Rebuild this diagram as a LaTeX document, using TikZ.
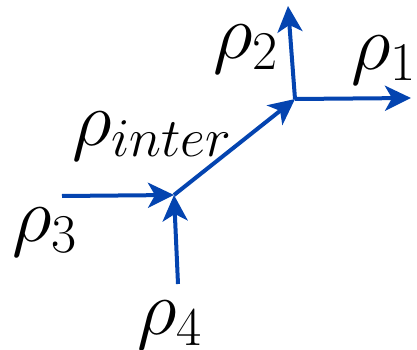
\documentclass[tikz,border=0pt]{standalone}
\usepackage{fix-cm}
\usetikzlibrary{arrows.meta}
\definecolor{edgeblue}{RGB}{4,68,176}
\tikzset{
  flow/.style={draw=edgeblue, line width=4pt, -{Stealth[length=26pt,width=25pt,inset=7pt]}},
  lab/.style={inner sep=0pt, font=\fontsize{78}{86}\selectfont}
}
\begin{document}
\begin{tikzpicture}[x=1pt,y=-1pt]
\useasboundingbox (0,0) rectangle (417,350);
\coordinate (v1) at (174,195);
\coordinate (v2) at (295,99);
\coordinate (s3) at (62,196);
\coordinate (s4) at (178,284);
\coordinate (e2) at (288,6);
\coordinate (e1) at (411,98);
\draw[flow] (s3) -- (v1);
\draw[flow] (s4) -- (v1);
\draw[flow] (v1) -- (v2);
\draw[flow] (v2) -- (e2);
\draw[flow] (v2) -- (e1);
\node[lab] (l2) at (246,49) {$\rho_2$};
\node[lab] (l1) at (384,60) {$\rho_1$};
\node[lab] (li) at (152,136) {$\rho_{inter}$};
\node[lab] (l3) at (45,232) {$\rho_3$};
\node[lab] (l4) at (170,325) {$\rho_4$};
\end{tikzpicture}
\end{document}
